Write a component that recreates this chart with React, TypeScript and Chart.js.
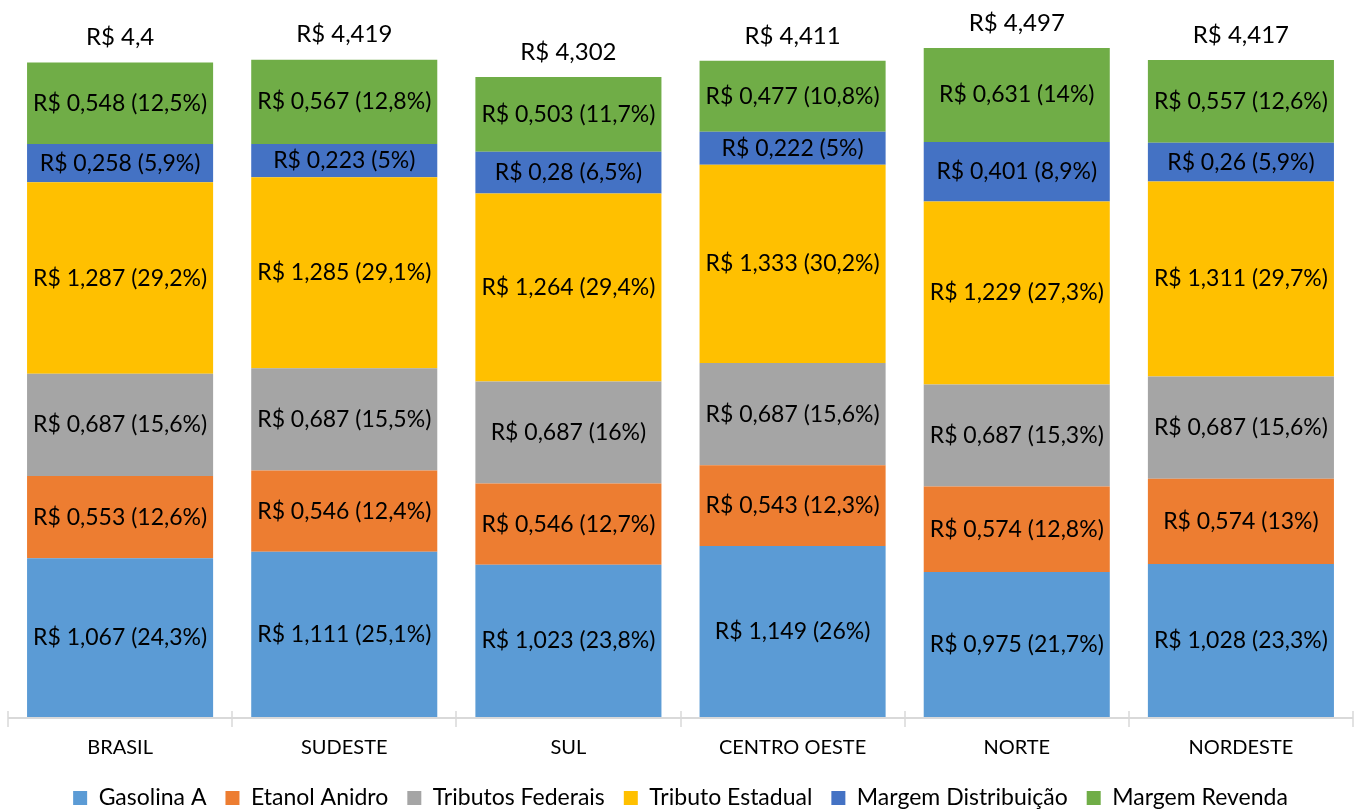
import React, { useEffect, useRef } from "react";
import { Chart, registerables } from "chart.js";

Chart.register(...registerables);

const categories = ["BRASIL", "SUDESTE", "SUL", "CENTRO OESTE", "NORTE", "NORDESTE"];

const gasolinaA = [1.067, 1.111, 1.023, 1.149, 0.975, 1.028];
const etanolAnidro = [0.553, 0.546, 0.546, 0.543, 0.574, 0.574];
const tributosFederais = [0.687, 0.687, 0.687, 0.687, 0.687, 0.687];
const tributoEstadual = [1.287, 1.285, 1.264, 1.333, 1.229, 1.311];
const margemDistribuicao = [0.258, 0.223, 0.28, 0.222, 0.401, 0.26];
const margemRevenda = [0.548, 0.567, 0.503, 0.477, 0.631, 0.557];

const pctGasolinaA = [24.3, 25.1, 23.8, 26, 21.7, 23.3];
const pctEtanolAnidro = [12.6, 12.4, 12.7, 12.3, 12.8, 13];
const pctTributosFederais = [15.6, 15.5, 16, 15.6, 15.3, 15.6];
const pctTributoEstadual = [29.2, 29.1, 29.4, 30.2, 27.3, 29.7];
const pctMargemDistribuicao = [5.9, 5, 6.5, 5, 8.9, 5.9];
const pctMargemRevenda = [12.5, 12.8, 11.7, 10.8, 14, 12.6];

const totals = [4.4, 4.419, 4.302, 4.411, 4.497, 4.417];

const FONT = "Lato, 'Open Sans', sans-serif";

const fmt = (v: number) => String(v).replace(".", ",");

const seriesDefs = [
  { label: "Gasolina A", data: gasolinaA, pct: pctGasolinaA, color: "#5B9BD5" },
  { label: "Etanol Anidro", data: etanolAnidro, pct: pctEtanolAnidro, color: "#ED7D31" },
  { label: "Tributos Federais", data: tributosFederais, pct: pctTributosFederais, color: "#A5A5A5" },
  { label: "Tributo Estadual", data: tributoEstadual, pct: pctTributoEstadual, color: "#FFC000" },
  { label: "Margem Distribuição", data: margemDistribuicao, pct: pctMargemDistribuicao, color: "#4472C4" },
  { label: "Margem Revenda", data: margemRevenda, pct: pctMargemRevenda, color: "#70AD47" },
];

const labelsPlugin = {
  id: "segLabels",
  afterDatasetsDraw(chart: any) {
    const ctx = chart.ctx;
    ctx.save();
    ctx.fillStyle = "#000";
    ctx.textAlign = "center";
    ctx.textBaseline = "middle";
    ctx.font = `23px ${FONT}`;
    chart.data.datasets.forEach((ds: any, di: number) => {
      const meta = chart.getDatasetMeta(di);
      meta.data.forEach((el: any, i: number) => {
        const y = (el.y + el.base) / 2;
        ctx.fillText(`R$ ${fmt(ds.data[i])} (${fmt(ds.pct[i])}%)`, el.x, y);
      });
    });
    const lastMeta = chart.getDatasetMeta(chart.data.datasets.length - 1);
    ctx.font = `24px ${FONT}`;
    lastMeta.data.forEach((el: any, i: number) => {
      ctx.fillText(`R$ ${fmt(totals[i])}`, el.x, el.y - 25);
    });
    ctx.restore();
  },
};

const axisPlugin = {
  id: "catAxis",
  afterDatasetsDraw(chart: any) {
    const { ctx, chartArea } = chart;
    const b = Math.round(chartArea.bottom) + 1;
    ctx.save();
    ctx.strokeStyle = "#D9D9D9";
    ctx.lineWidth = 2;
    ctx.beginPath();
    ctx.moveTo(chartArea.left, b);
    ctx.lineTo(chartArea.right, b);
    ctx.stroke();
    ctx.lineWidth = 1.5;
    ctx.beginPath();
    const n = categories.length;
    const w = (chartArea.right - chartArea.left) / n;
    for (let i = 0; i <= n; i++) {
      const x = Math.round(chartArea.left + i * w);
      ctx.moveTo(x, b - 7);
      ctx.lineTo(x, b + 9);
    }
    ctx.stroke();
    ctx.restore();
  },
};

export default function App() {
  const ref = useRef<HTMLCanvasElement | null>(null);
  useEffect(() => {
    if (!ref.current) return;
    const chart = new Chart(ref.current, {
      type: "bar",
      data: {
        labels: categories,
        datasets: seriesDefs.map((s) => ({
          label: s.label,
          data: s.data,
          pct: s.pct,
          backgroundColor: s.color,
          borderWidth: 0,
          barPercentage: 0.83,
          categoryPercentage: 1,
        })) as any,
      },
      options: {
        responsive: false,
        devicePixelRatio: 1,
        animation: false,
        layout: { padding: { left: 8, right: 10, top: 0, bottom: -10.5 } },
        plugins: {
          legend: {
            position: "bottom",
            labels: {
              font: { family: FONT, size: 23 },
              color: "#000",
              boxWidth: 14,
              boxHeight: 14,
              padding: 19,
            },
          },
          tooltip: { enabled: false },
        },
        scales: {
          x: {
            stacked: true,
            grid: { display: false, drawTicks: false },
            border: { display: false },
            ticks: { font: { family: FONT, size: 20 }, color: "#000", padding: 19 },
            afterFit: (scale: any) => {
              scale.height = 50.5;
            },
          },
          y: {
            stacked: true,
            display: false,
            min: 0,
            max: 4.82,
          },
        },
      },
      plugins: [labelsPlugin, axisPlugin],
    });
    return () => chart.destroy();
  }, []);
  return (
    <div style={{ position: "absolute", left: 0, top: 0, width: 1363, height: 809, background: "#fff" }}>
      <canvas ref={ref} width={1363} height={809} />
    </div>
  );
}
